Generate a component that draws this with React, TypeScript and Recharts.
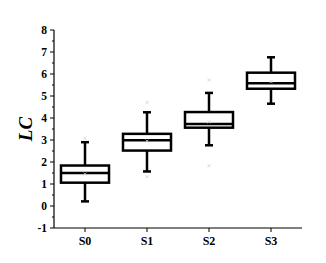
import { Bar, ComposedChart, Line, XAxis, YAxis } from 'recharts';

const categories = ['S0', 'S1', 'S2', 'S3'];
const mins = [0.21, 1.57, 2.76, 4.65];
const q1s = [1.06, 2.52, 3.56, 5.33];
const medians = [1.5, 2.99, 3.73, 5.58];
const q3s = [1.84, 3.28, 4.27, 6.06];
const maxs = [2.9, 4.26, 5.14, 6.76];
const means = [1.45, 2.95, 3.82, 5.65];
const outHigh = [3.08, 4.71, 5.73, null];
const outLow = [null, 1.33, 1.83, null];
const yTicks = [-1, -0.5, 0, 0.5, 1, 1.5, 2, 2.5, 3, 3.5, 4, 4.5, 5, 5.5, 6, 6.5, 7, 7.5, 8];

const data = categories.map((name, i) => ({
  name,
  min: mins[i],
  q1: q1s[i],
  median: medians[i],
  q3: q3s[i],
  max: maxs[i],
  mean: means[i],
  outHigh: outHigh[i],
  outLow: outLow[i],
}));

const FONT = '"Liberation Serif", "Times New Roman", serif';

function BoxShape(props: any) {
  const { x, y, width, height, payload } = props;
  const top = Math.min(y, y + height);
  const h = Math.abs(height);
  const per = h / (payload.max - payload.min);
  const py = (v: number) => top + (payload.max - v) * per;
  const cx = x + width / 2;
  const cap = 4;
  return (
    <g stroke="#000" strokeWidth={2.5} fill="none">
      <line x1={cx} x2={cx} y1={py(payload.max)} y2={py(payload.q3)} />
      <line x1={cx} x2={cx} y1={py(payload.q1)} y2={py(payload.min)} />
      <line x1={cx - cap} x2={cx + cap} y1={py(payload.max)} y2={py(payload.max)} />
      <line x1={cx - cap} x2={cx + cap} y1={py(payload.min)} y2={py(payload.min)} />
      <rect x={x} y={py(payload.q3)} width={width} height={py(payload.q1) - py(payload.q3)} fill="#fff" />
      <line x1={x} x2={x + width} y1={py(payload.median)} y2={py(payload.median)} />
    </g>
  );
}

function Marker(props: any) {
  const { cx, cy, value, index } = props;
  if (value == null || cy == null || isNaN(cy)) return <g key={index} />;
  return (
    <g key={index} stroke="#cfcfcf" strokeWidth={0.8}>
      <line x1={cx - 1.5} x2={cx + 1.5} y1={cy - 1.5} y2={cy + 1.5} />
      <line x1={cx - 1.5} x2={cx + 1.5} y1={cy + 1.5} y2={cy - 1.5} />
    </g>
  );
}

function YTick(props: any) {
  const { x, y, payload } = props;
  const v = payload.value;
  const major = Number.isInteger(v);
  const axisX = x + 7;
  return (
    <g>
      <line x1={axisX - (major ? 4 : 2)} x2={axisX} y1={y} y2={y} stroke="#000" strokeWidth={1} />
      {major && (
        <text x={x} y={y} dy="0.35em" textAnchor="end" fontFamily={FONT} fontWeight="bold" fontSize={11.5} fill="#000">
          {v}
        </text>
      )}
    </g>
  );
}

export default function App() {
  return (
    <div style={{ position: 'absolute', left: 0, top: 0, background: '#fff' }}>
      <ComposedChart width={326} height={263} data={data} margin={{ top: 30, right: 24, left: 0, bottom: 0 }}>
        <XAxis
          dataKey="name"
          height={35}
          axisLine={{ stroke: '#000', strokeWidth: 1.2 }}
          tickLine={{ stroke: '#000' }}
          tickSize={4}
          tickMargin={4}
          tick={{ fontFamily: FONT, fontWeight: 'bold', fontSize: 12, fill: '#000' }}
        />
        <XAxis xAxisId="top" dataKey="name" orientation="top" height={0} tick={false} tickLine={false} axisLine={{ stroke: '#b5b5b5', strokeWidth: 1.5 }} />
        <YAxis
          type="number"
          domain={[-1, 8]}
          ticks={yTicks}
          interval={0}
          width={54}
          tickSize={4}
          tickMargin={3}
          tickLine={false}
          tick={<YTick />}
          axisLine={{ stroke: '#000', strokeWidth: 1.2 }}
          label={{
            content: (p: any) => {
              const vb = p.viewBox;
              const cx = vb.x + 25;
              const cy = vb.y + vb.height / 2;
              return (
                <text x={cx} y={cy} transform={`rotate(-90 ${cx} ${cy})`} textAnchor="middle" dy="0.35em" fontFamily={FONT} fontWeight="bold" fontStyle="italic" fontSize={19} fill="#000">
                  LC
                </text>
              );
            },
          }}
        />
        <YAxis yAxisId="right" orientation="right" domain={[-1, 8]} width={0} tick={false} tickLine={false} axisLine={{ stroke: '#b5b5b5', strokeWidth: 1.5 }} />
        <Bar dataKey={(d: any) => [d.min, d.max]} barSize={48} shape={<BoxShape />} isAnimationActive={false} />
        <Line dataKey="mean" stroke="none" dot={<Marker />} activeDot={false} isAnimationActive={false} />
        <Line dataKey="outHigh" stroke="none" dot={<Marker />} activeDot={false} isAnimationActive={false} />
        <Line dataKey="outLow" stroke="none" dot={<Marker />} activeDot={false} isAnimationActive={false} />
      </ComposedChart>
    </div>
  );
}
